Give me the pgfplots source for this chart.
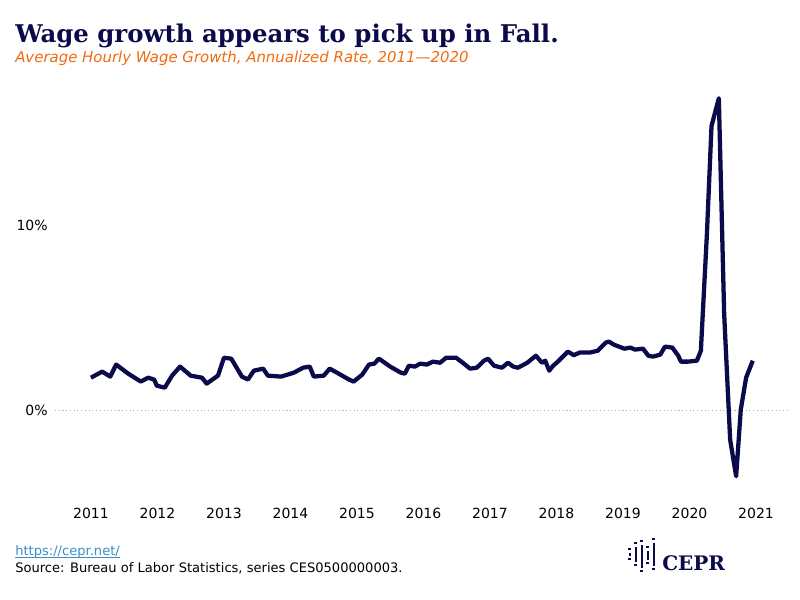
\documentclass[border=0pt]{standalone}
\usepackage{pgfplots}
\pgfplotsset{compat=1.18}
\usepackage{fontspec}
\setmainfont{DejaVu Sans}
\newfontfamily\titlefont{DejaVu Serif}
\definecolor{navy}{HTML}{0B0B4B}
\definecolor{orng}{HTML}{F26B0F}
\definecolor{lnk}{HTML}{3A8FC7}
\begin{document}
\begin{tikzpicture}
\begin{scope}[x=0.75pt,y=0.75pt]
\fill[white] (0,0) rectangle (800,600);
\node[anchor=base west,font=\titlefont\bfseries\fontsize{18.3}{21}\selectfont,text=navy,inner sep=0] at (15,557) {Wage growth appears to pick up in Fall.};
\node[anchor=base west,font=\itshape\fontsize{11.2}{13}\selectfont,text=orng,inner sep=0] at (15,537) {Average Hourly Wage Growth, Annualized Rate, 2011---2020};
\node[anchor=base west,font=\fontsize{9.8}{11}\selectfont,text=lnk,inner sep=0] (u) at (15,45) {https://cepr.net/};
\draw[lnk,thin] (u.base west)++(0,-2.5) -- (u.base east |- 0,42.5);
\node[anchor=base west,font=\fontsize{9.8}{11}\selectfont,inner sep=0] at (15,27) {Source: Bureau of Labor Statistics, series CES0500000003.};
\node[anchor=base west,font=\titlefont\bfseries\fontsize{15}{18}\selectfont,text=navy,inner sep=0] at (662,29) {CEPR};
\foreach \i/\a/\b in {0/40/50,1/34/56,2/28/58,3/36/52,4/30/60}{
  \fill[navy] (628+6*\i,\a) rectangle ++(3,2);
  \fill[navy] (628+6*\i,\b) rectangle ++(3,2);
  \draw[navy,line width=1.5pt] (629.5+6*\i,\a+4) -- (629.5+6*\i,\b-3);}
\end{scope}
\begin{axis}[at={(41.25pt,72.75pt)},anchor=south west,scale only axis,width=551.25pt,height=312pt,
  xmin=2010.46,xmax=2021.51,ymin=-5,ymax=17.51,
  axis line style={draw=none},tick style={draw=none},
  xtick={2011,...,2021},xticklabel style={/pgf/number format/1000 sep=,font=\fontsize{10.5}{12}\selectfont},
  ytick={0,10},yticklabels={0\%,10\%},yticklabel style={font=\fontsize{10.5}{12}\selectfont,xshift=-2pt},
  /pgf/number format/assume math mode=true,
  clip=false]
\addplot[gray!60,dotted,thick] coordinates {(2010.46,0) (2021.51,0)};
\addplot[navy,line width=3.2pt,line join=round] coordinates {
(2011.00,1.78)(2011.17,2.11)(2011.29,1.84)(2011.38,2.49)(2011.56,2.0)(2011.75,1.57)(2011.86,1.78)(2011.95,1.68)(2011.99,1.35)(2012.11,1.24)(2012.22,1.89)(2012.34,2.38)(2012.50,1.89)(2012.67,1.78)(2012.74,1.46)(2012.91,1.89)(2013.00,2.86)(2013.11,2.81)(2013.27,1.84)(2013.36,1.68)(2013.45,2.16)(2013.59,2.27)(2013.66,1.89)(2013.86,1.84)(2014.05,2.05)(2014.19,2.32)(2014.29,2.38)(2014.35,1.84)(2014.50,1.89)(2014.59,2.27)(2014.70,2.05)(2014.88,1.68)(2014.95,1.57)(2015.08,1.95)(2015.18,2.49)(2015.26,2.54)(2015.33,2.81)(2015.50,2.38)(2015.66,2.05)(2015.72,2.0)(2015.78,2.43)(2015.87,2.38)(2015.95,2.54)(2016.05,2.49)(2016.14,2.65)(2016.25,2.59)(2016.34,2.86)(2016.49,2.86)(2016.59,2.59)(2016.70,2.27)(2016.80,2.32)(2016.91,2.70)(2016.97,2.81)(2017.06,2.43)(2017.18,2.32)(2017.27,2.59)(2017.35,2.38)(2017.42,2.32)(2017.56,2.59)(2017.69,2.97)(2017.78,2.59)(2017.83,2.70)(2017.89,2.16)(2017.95,2.43)(2018.02,2.65)(2018.17,3.19)(2018.26,3.0)(2018.35,3.14)(2018.50,3.14)(2018.62,3.24)(2018.74,3.68)(2018.79,3.73)(2018.86,3.57)(2019.02,3.35)(2019.11,3.41)(2019.18,3.30)(2019.30,3.35)(2019.38,2.97)(2019.45,2.92)(2019.56,3.03)(2019.63,3.46)(2019.74,3.41)(2019.83,2.97)(2019.87,2.65)(2019.98,2.65)(2020.11,2.70)(2020.17,3.24)(2020.26,9.5)(2020.33,15.4)(2020.44,16.9)(2020.52,5.24)(2020.61,-1.57)(2020.70,-3.55)(2020.77,0.05)(2020.85,1.78)(2020.95,2.70)};
\end{axis}
\end{tikzpicture}
\end{document}
